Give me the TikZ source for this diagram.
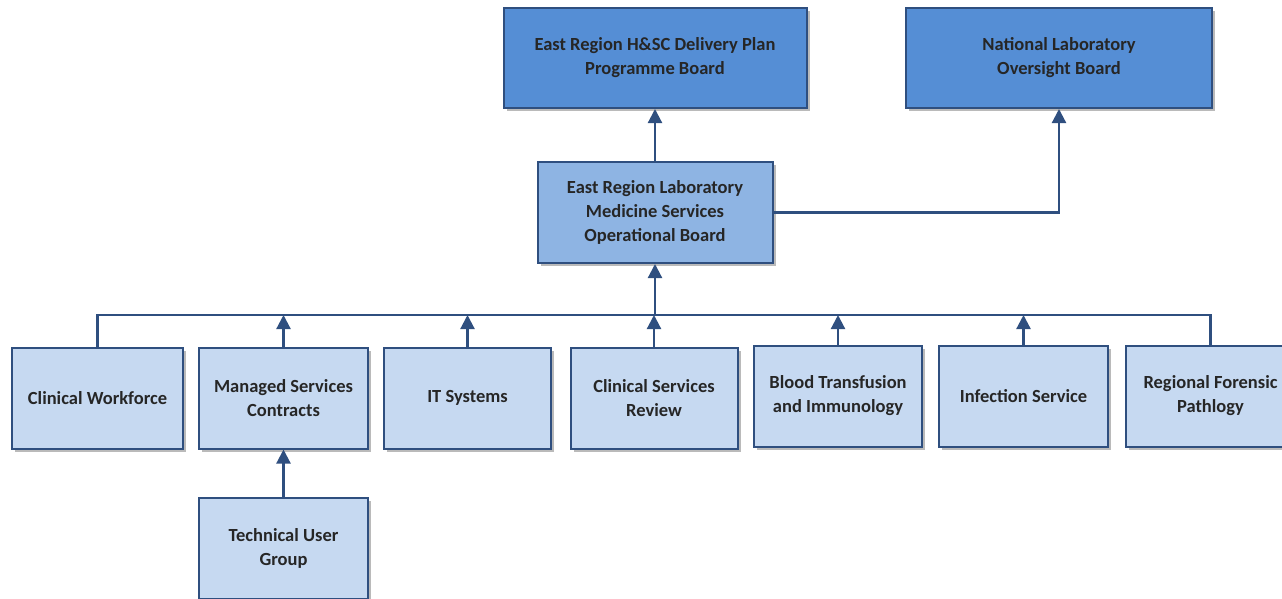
\documentclass[tikz,border=0pt]{standalone}
\usepackage{fontspec}
\setmainfont{Carlito}
\usetikzlibrary{arrows.meta,shadows}
\definecolor{boardblue}{HTML}{558ED5}
\definecolor{opblue}{HTML}{8EB4E3}
\definecolor{groupblue}{HTML}{C6D9F1}
\definecolor{edgeblue}{HTML}{2F4F7F}
\begin{document}
\begin{tikzpicture}[x=1pt,y=-1pt,
  box/.style={draw=edgeblue,line width=2pt,align=center,inner sep=0pt,
    font=\fontsize{18.5}{24}\selectfont\bfseries,text=black!85,
    drop shadow={shadow xshift=3pt,shadow yshift=-3pt,opacity=0.45,fill=black!60}},
  board/.style={box,fill=boardblue,minimum width=303pt,minimum height=100pt},
  opbox/.style={box,fill=opblue,minimum width=235pt,minimum height=101pt},
  group/.style={box,fill=groupblue,minimum width=169pt,minimum height=101pt},
  link/.style={draw=edgeblue,line width=2.2pt},
  arr/.style={link,-{Triangle[length=14pt,width=14pt]}}]
\useasboundingbox (0,0) rectangle (1282,598);
% boards
\node (topboard) [board] at (655,58) {East Region H\&SC Delivery Plan\\Programme Board};
\node (natboard) [board,minimum width=306pt] at (1059,58) {National Laboratory\\Oversight Board};
\node (opboard) [opbox] at (655,212.5) {East Region Laboratory\\Medicine Services\\Operational Board};
% groups
\node (workforce) [group,minimum width=171pt] at (97.5,398) {Clinical Workforce};
\node (managed) [group] at (283.5,398) {Managed Services\\Contracts};
\node (itsys) [group,minimum width=167pt] at (467.5,398) {IT Systems};
\node (csreview) [group,minimum width=167pt] at (654,398) {Clinical Services\\Review};
\node (blood) [group,minimum width=168pt] at (838,396) {Blood Transfusion\\and Immunology};
\node (infection) [group] at (1023.5,396) {Infection Service};
\node (forensic) [group] at (1210.5,396) {Regional Forensic\\Pathlogy};
\node (techuser) [group] at (283.5,548) {Technical User\\Group};
\coordinate (bus) at (0,315);
% connectors
\draw [arr] (opboard.north) -- (topboard.south);
\draw [arr] (opboard.east) -| (natboard.south);
\draw [link] (workforce.north) |- (bus -| forensic.north) -- (forensic.north);
\foreach \g in {managed,itsys,csreview,blood,infection}
  \draw [arr] (\g.north) -- (\g.north |- bus);
\draw [arr] (opboard.south |- bus) -- (opboard.south);
\draw [arr] (techuser.north) -- (managed.south);
\end{tikzpicture}
\end{document}
